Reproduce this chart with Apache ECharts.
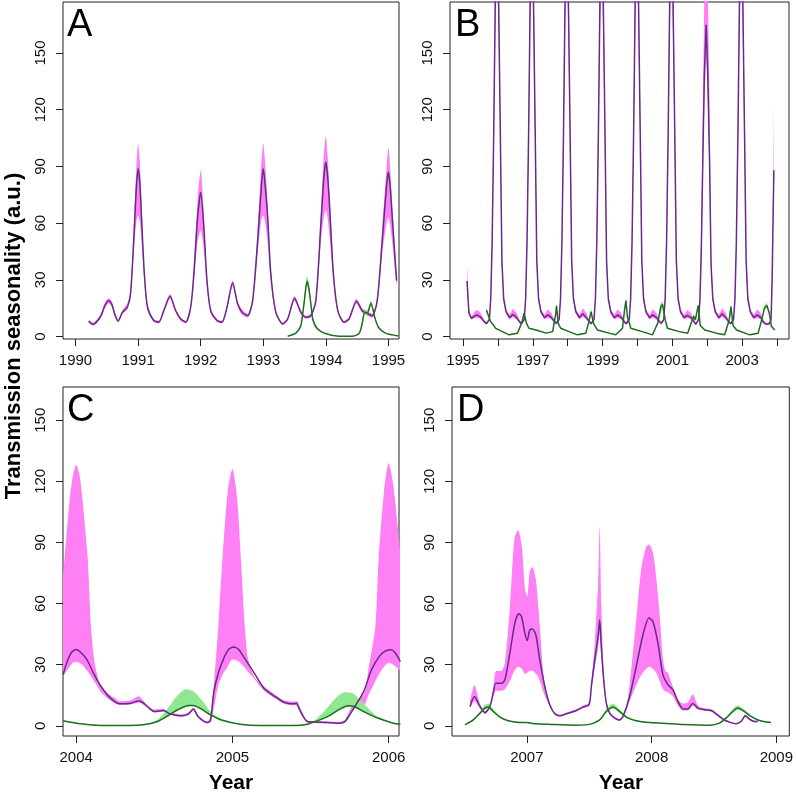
<!DOCTYPE html>
<html><head><meta charset="utf-8">
<script src="https://cdn.jsdelivr.net/npm/echarts@6/dist/echarts.min.js"></script>
<style>html,body{margin:0;padding:0;background:#fff}#c{width:796px;height:799px}</style>
</head><body><div id="c"></div>
<script>
// ---------------- Panel A (1990-1995) ----------------
const aPurpleX = [1990.21,1990.28,1990.40,1990.47,1990.53,1990.58,1990.63,1990.68,1990.75,1990.83,
 1990.88,1990.93,1990.97,1991.00,1991.03,1991.06,1991.10,1991.15,1991.25,1991.33,
 1991.41,1991.51,1991.60,1991.68,1991.76,1991.84,1991.89,1991.95,1992.00,1992.05,
 1992.10,1992.16,1992.26,1992.34,1992.42,1992.51,1992.59,1992.66,1992.75,1992.83,
 1992.91,1992.97,1993.00,1993.03,1993.07,1993.12,1993.20,1993.31,1993.39,1993.50,
 1993.60,1993.68,1993.76,1993.84,1993.92,1993.97,1994.00,1994.03,1994.06,1994.12,
 1994.19,1994.29,1994.37,1994.49,1994.58,1994.66,1994.74,1994.82,1994.90,1994.97,
 1995.00,1995.03,1995.06,1995.13];
const aPurpleMid = [8.1,6.5,10.5,16.5,19.0,17.0,11.5,8.2,12.8,15.8,
 23.0,51.0,78.0,88.8,80.0,59.0,33.0,15.5,8.5,7.6,
 13.7,21.3,13.7,9.3,7.6,15.5,33.0,63.0,76.4,57.7,
 29.5,13.7,8.5,7.6,15.5,28.4,17.3,12.9,11.1,19.0,
 50.8,80.0,88.8,80.0,63.0,33.2,12.9,6.7,9.3,20.2,
 12.9,10.2,11.1,19.0,59.7,85.0,92.3,84.0,68.3,33.2,
 13.7,7.6,9.3,18.7,13.7,12.3,11.0,19.0,50.8,80.0,
 87.0,78.0,63.0,29.5];
const aPinkLo = [7.3,5.8,9.6,15.0,17.5,15.8,10.5,7.5,12.0,14.5,
 21.0,44.0,60.0,64.0,60.0,48.0,29.0,14.0,7.8,7.0,
 12.8,20.0,12.8,8.5,7.0,14.5,28.0,50.0,56.0,46.0,
 26.0,12.5,7.8,7.0,14.5,26.5,16.0,11.5,10.0,17.5,
 44.0,62.0,64.0,60.0,50.0,29.0,12.0,6.1,8.5,18.8,
 11.8,9.5,10.3,17.5,50.0,64.0,67.0,62.0,52.0,29.0,
 12.8,7.0,8.6,17.5,12.5,11.0,10.0,17.5,44.0,60.0,
 63.0,58.0,50.0,26.0];
const aPinkHi = [9.0,7.3,11.8,18.0,20.2,18.5,12.5,9.0,14.0,17.5,
 25.0,57.0,88.0,102.0,92.0,66.0,36.0,17.0,9.3,8.4,
 14.8,22.5,14.6,10.0,8.3,16.8,36.0,72.0,88.0,65.0,
 32.0,15.0,9.3,8.3,16.8,29.5,18.3,14.5,12.0,20.5,
 57.0,92.0,102.0,92.0,70.0,36.0,14.0,7.4,10.2,21.5,
 13.8,11.0,12.0,20.5,66.0,98.0,106.0,95.0,75.0,36.0,
 14.8,8.3,10.2,20.0,14.8,13.5,12.0,20.5,57.0,90.0,
 100.0,88.0,70.0,33.0];
const aGreenX = [1993.39,1993.52,1993.60,1993.65,1993.70,1993.73,1993.76,1993.79,1993.86,1993.99,
 1994.21,1994.42,1994.53,1994.58,1994.62,1994.66,1994.72,1994.78,1994.84,1994.95,1995.16];
const aGreenMid = [0.2,1.8,5.8,17.3,29.3,25.0,17.3,9.3,4.2,1.6,
 0.2,0.2,1.6,6.9,12.9,12.3,17.6,10.2,4.9,1.8,0.3];
const aGreenLo = [0.1,1.5,5.0,15.5,27.0,23.0,16.0,8.5,3.8,1.4,
 0.1,0.1,1.3,6.0,11.5,11.5,16.5,9.5,4.5,1.6,0.2];
const aGreenHi = [0.3,2.2,6.8,19.5,32.0,28.0,19.0,10.2,4.7,1.8,
 0.3,0.3,1.9,8.0,14.5,14.0,19.0,11.0,5.4,2.0,0.4];

// ---------------- Panel B (1995-2004) ----------------
const bPurpleX = [1995.115,1995.17,1995.24,1995.31,1995.38,1995.45,1995.52,1995.60,1995.675,
 1995.755,1995.795,1995.835,1995.88,1995.925,1995.975,1996.02,1996.07,1996.115,1996.165,1996.235,1996.335,1996.435,1996.535,1996.615,1996.675,
 1996.755,1996.795,1996.835,1996.88,1996.925,1996.975,1997.02,1997.07,1997.115,1997.165,1997.235,1997.335,1997.435,1997.535,1997.615,1997.675,
 1997.755,1997.795,1997.835,1997.88,1997.925,1997.975,1998.02,1998.07,1998.115,1998.165,1998.235,1998.335,1998.435,1998.535,1998.615,1998.675,
 1998.755,1998.795,1998.835,1998.88,1998.925,1998.975,1999.02,1999.07,1999.115,1999.165,1999.235,1999.335,1999.435,1999.535,1999.615,1999.675,
 1999.765,1999.805,1999.845,1999.89,1999.935,1999.985,2000.03,2000.08,2000.125,2000.175,2000.245,2000.345,2000.445,2000.545,2000.625,2000.685,
 2000.755,2000.795,2000.835,2000.88,2000.925,2000.975,2001.02,2001.07,2001.115,2001.165,2001.235,2001.335,2001.435,2001.535,2001.615,2001.675,
 2001.75,2001.79,2001.83,2001.875,2001.92,2001.97,2002.015,2002.065,2002.11,2002.16,2002.23,2002.33,2002.43,2002.53,2002.61,2002.675,
 2002.755,2002.795,2002.835,2002.88,2002.925,2002.975,2003.02,2003.07,2003.115,2003.165,2003.235,2003.335,2003.435,2003.535,2003.615,2003.70,
 2003.78,2003.83,2003.86,2003.89,2003.91];
const bPurpleMid = [29.4,12.3,9.6,10.5,11.4,11.0,10.0,8.0,6.8,
 9,20,50,107,178,215,178,107,40,20,13,10,11.8,10,8,6.8,
 9,20,50,107,178,220,178,107,40,20,13,10,11.5,10,8,7,
 9,20,50,107,178,225,178,107,40,20,13,10,12,10,8,6.8,
 9,20,50,107,178,215,178,107,40,20,13,10,11.5,10,8,6.8,
 9,20,50,107,178,230,178,107,40,20,13,10,11.5,10,8,7,
 9,20,50,107,178,220,178,107,40,20,13,10,11.2,10,8,6.5,
 9,19,45,95,140,165,140,95,38,20,13,10,12,10,8,6.8,
 9,20,50,107,178,225,178,107,40,20,13,10,11.5,10,7.5,6.5,
 6.8,9,30,65,88];
const bPinkLo = [27,11.5,9.0,9.5,10.0,9.8,9.0,7.3,6.2,
 8.3,18,45,96,160,194,160,96,36,18.5,12,9,10.3,9,7.3,6.2,
 8.3,18,45,96,160,198,160,96,36,18.5,12,9,10,9,7.3,6.3,
 8.3,18,45,96,160,202,160,96,36,18.5,12,9,10.5,9,7.3,6.2,
 8.3,18,45,96,160,194,160,96,36,18.5,12,9,10,9,7.3,6.2,
 8.3,18,45,96,160,207,160,96,36,18.5,12,9,10,9,7.3,6.3,
 8.3,18,45,96,160,198,160,96,36,18.5,12,9,9.8,9,7.3,5.9,
 8.3,17,40,85,126,148,126,85,34,18.5,12,9,10.5,9,7.3,6.2,
 8.3,18,45,96,160,202,160,96,36,18.5,12,9,10,9,6.8,5.9,
 6.2,8.3,27,60,80];
const bPinkHi = [38,14,10.8,12.5,14.0,13.5,12.0,9.0,7.5,
 9.8,22,55,118,196,240,196,118,44,21.5,14.5,11.5,14.8,12.5,9,7.5,
 9.8,22,55,118,196,246,196,118,44,21.5,14.5,11.5,14.5,12.5,9,7.7,
 9.8,22,55,118,196,252,196,118,44,21.5,14.5,11.5,15,12.5,9,7.5,
 9.8,22,55,118,196,240,196,118,44,21.5,14.5,11.5,14.5,12.5,9,7.5,
 9.8,22,55,118,196,258,196,118,44,21.5,14.5,11.5,14.5,12.5,9,7.7,
 9.8,22,55,118,196,246,196,118,44,21.5,14.5,11.5,14,12.5,9,7.2,
 9.8,24,60,125,185,210,185,125,44,21.5,14.5,11.5,15,12.5,9,7.5,
 9.8,22,55,118,196,252,196,118,44,21.5,14.5,11.5,14.5,12.5,8.5,7.2,
 7.5,9.8,36,80,124];
const bGreenX = [1995.67,1995.79,1995.94,1996.32,1996.56,1996.68,1996.75,1996.82,1996.89,1997.09,
 1997.38,1997.57,1997.66,1997.68,1997.73,1997.80,1998.04,1998.28,1998.52,1998.61,
 1998.67,1998.74,1998.85,1999.19,1999.38,1999.57,1999.63,1999.67,1999.71,1999.81,
 2000.14,2000.43,2000.58,2000.67,2000.72,2000.80,2000.86,2001.20,2001.44,2001.57,
 2001.61,2001.66,2001.74,2001.80,2001.93,2002.26,2002.50,2002.63,2002.68,2002.74,
 2002.84,2003.22,2003.46,2003.56,2003.64,2003.71,2003.78,2003.84,2003.94];
const bGreenMid = [14,8,4.3,0.9,1.8,7,12.3,7,4.4,3.5,
 1.8,2.6,12.3,16.2,7,4.4,2.6,0.9,1.8,8,
 13.2,7,3.5,1.8,0.9,4.4,14,19,10.6,4.4,
 2.6,0.9,7,15.9,17,8.5,4.4,2.6,1.8,8.8,
 10.8,8.8,16.4,5.8,3.5,1.8,0.9,8.8,15.9,5.8,
 3.5,0.9,1.8,8.8,15,16.4,12.3,5.3,3.5];
const bGreenLo = [13,7.5,4.0,0.8,1.6,6.5,11.5,6.5,4.1,3.3,
 1.6,2.4,11.5,15,6.5,4.1,2.4,0.8,1.6,7.4,
 12.3,6.5,3.3,1.6,0.8,4.1,13,17.5,10,4.1,
 2.4,0.8,6.5,14.5,15.5,8,4.1,2.4,1.6,8.2,
 10,8.2,15,5.4,3.3,1.6,0.8,8.2,14.8,5.4,
 3.3,0.8,1.6,8.2,14,15.2,11.5,5.0,3.3];
const bGreenHi = [15,8.5,4.6,1.0,2.0,7.6,13.5,7.6,4.7,3.7,
 2.0,2.8,13.5,17.5,7.6,4.7,2.8,1.0,2.0,8.8,
 14.5,7.6,3.7,2.0,1.0,4.8,15.5,20.5,11.5,4.7,
 2.8,1.0,7.8,17.5,19,9.2,4.7,2.8,2.0,9.5,
 11.8,9.6,17.5,6.2,3.7,2.0,1.0,9.6,17,6.2,
 3.7,1.0,2.0,9.6,16.5,18,13.2,5.7,3.7];

// ---------------- Panel C (2004-2006) ----------------
const cPurpleX = [2003.916,2003.94,2003.97,2004.00,2004.03,2004.07,2004.11,2004.16,2004.22,2004.28,
 2004.35,2004.40,2004.43,2004.47,2004.50,2004.56,2004.60,2004.67,2004.72,2004.75,
 2004.78,2004.84,2004.86,2004.88,2004.91,2004.95,2004.98,2005.01,2005.04,2005.07,
 2005.14,2005.20,2005.27,2005.33,2005.39,2005.41,2005.42,2005.45,2005.48,2005.54,
 2005.61,2005.67,2005.72,2005.75,2005.79,2005.84,2005.89,2005.94,2005.975,2006.01,
 2006.04,2006.075];
const cPurpleMid = [25,31,36,37.5,36,32.4,26,19.3,13.6,10.8,
 11.1,12.2,11.3,8.5,7.0,7.5,5.9,4.9,5.9,8.3,
 4.6,1.6,2.6,16.1,25.9,34.1,37.8,38.7,37.5,34.1,
 25.9,18.6,14.5,11.6,10.8,11.1,9.5,5,2.1,1.8,
 1.6,1.3,2.1,5.4,10.3,16.8,27.5,34.1,36.5,37.3,
 36,31.5];
const cPinkX = [2003.916,2003.94,2003.96,2003.98,2004.00,2004.02,2004.04,2004.06,2004.075,2004.095,
 2004.115,2004.135,2004.155,2004.20,2004.24,2004.28,2004.35,2004.40,2004.45,2004.50,
 2004.56,2004.60,2004.67,2004.72,2004.75,2004.78,2004.84,2004.86,2004.885,2004.91,
 2004.936,2004.97,2005.00,2005.03,2005.055,2005.08,2005.10,2005.14,2005.20,2005.27,
 2005.33,2005.39,2005.415,2005.425,2005.48,2005.54,2005.61,2005.67,2005.72,2005.76,
 2005.80,2005.845,2005.87,2005.915,2005.935,2005.97,2006.00,2006.03,2006.075];
const cPinkLo = [24,27,29,31,31.5,31,30,28,26.5,24.5,
 22,19.5,17,13.5,11.5,10.2,10.5,11.5,9.2,6.5,
 7,5.5,4.4,5.3,7.6,4.0,1.2,2.0,10,20,
 25,29,32.5,32,30.5,28.5,26.5,23,17.5,13.5,
 10.8,10,10.3,8.5,1.6,1.3,1.1,0.8,1.5,6,
 10,10.5,15,22,25,29,31,30,27];
const cPinkHi = [73,95,112,123,128,124,112,95,81.5,49,
 32.5,25,19.5,16,14,12,12.5,14.5,10.5,8,
 8.2,6.6,5.5,6.5,9,5.2,2.2,5,24,49,
 81.5,115,126,112,81.5,48,33,24,19.5,15.5,
 12.5,11.8,12,10.5,2.6,2.3,2.1,1.8,3,9,
 12.5,16,27.5,49,81.5,115,129,118,85];
const cGreenX = [2003.916,2004.03,2004.16,2004.33,2004.43,2004.52,2004.58,2004.65,2004.72,2004.75,
 2004.80,2004.86,2004.94,2005.05,2005.18,2005.39,2005.48,2005.56,2005.63,2005.69,
 2005.74,2005.78,2005.84,2005.93,2006.03,2006.075];
const cGreenMid = [2.5,1.0,0.2,0.2,0.5,2.1,4.6,7.9,10,10,
 8.3,5.4,2.6,0.8,0.2,0.2,0.8,2.9,5.4,8.3,
 9.8,9.5,7.0,3.8,1.3,0.8];
const cGreenBandX = [2003.916,2004.03,2004.16,2004.33,2004.43,2004.50,2004.55,2004.60,2004.65,2004.70,
 2004.75,2004.80,2004.85,2004.90,2004.95,2005.05,2005.18,2005.39,2005.48,2005.53,
 2005.58,2005.63,2005.68,2005.72,2005.77,2005.82,2005.87,2005.93,2006.03,2006.075];
const cGreenLo = [2.3,0.9,0.1,0.1,0.4,1.5,3.0,5.0,7.6,9.2,
 9.8,8.1,5.5,3.8,2.4,0.7,0.1,0.1,0.7,1.8,
 3.6,5.2,7.5,9.0,9.4,7.6,5.6,3.6,1.2,0.7];
const cGreenHi = [2.7,1.1,0.3,0.3,0.7,2.0,5.0,10.0,15.0,18.0,
 17.0,13.0,8.0,4.6,2.9,0.9,0.3,0.3,1.0,3.0,
 6.5,11.0,15.0,16.5,16.0,12.5,8.5,4.5,1.4,0.9];

// ---------------- Panel D (2006-2009) ----------------
const dPurpleX = [2006.544,2006.58,2006.624,2006.664,2006.704,2006.73,2006.752,2006.797,2006.824,2006.864,
 2006.904,2006.936,2006.957,2006.984,2007.003,2007.024,2007.045,2007.072,2007.104,2007.144,
 2007.184,2007.224,2007.264,2007.317,2007.397,2007.451,2007.499,2007.517,2007.544,2007.571,
 2007.584,2007.597,2007.616,2007.637,2007.664,2007.704,2007.744,2007.771,2007.824,2007.877,
 2007.931,2007.979,2008.011,2008.051,2008.091,2008.131,2008.171,2008.211,2008.251,2008.291,
 2008.331,2008.371,2008.424,2008.477,2008.517,2008.571,2008.624,2008.677,2008.717,2008.752,
 2008.784,2008.824,2008.851];
const dPurpleMid = [9.5,14.4,9.5,6.5,9.5,16,20.9,20.9,22.6,35.7,
 50.4,55,53.7,45.5,41.9,47.1,47.5,44.7,32.4,19.3,
 10.3,5.9,4.9,5.9,7.5,9.2,10.3,19.3,32.4,43.8,
 52,38.9,22.6,11.1,6.2,3.8,2.9,4.6,14.4,29.1,
 44.7,52.9,51.2,40.6,25.1,20.2,17.7,12,8.3,8.3,
 11,8.7,7.9,7.5,5.9,3.3,1.8,1.0,2.1,4.9,
 3.3,2.1,2.1];
const dPinkX = [2006.544,2006.58,2006.624,2006.664,2006.704,2006.73,2006.752,2006.797,2006.824,2006.864,
 2006.90,2006.93,2006.96,2006.985,2007.003,2007.024,2007.045,2007.072,2007.09,2007.11,
 2007.13,2007.157,2007.184,2007.224,2007.264,2007.317,2007.397,2007.451,2007.499,2007.517,
 2007.544,2007.571,2007.584,2007.597,2007.616,2007.637,2007.664,2007.704,2007.744,2007.771,
 2007.80,2007.824,2007.877,2007.917,2007.957,2007.98,2008.011,2008.037,2008.064,2008.091,
 2008.11,2008.131,2008.171,2008.211,2008.251,2008.291,2008.331,2008.371,2008.424,2008.477,
 2008.517,2008.571,2008.624,2008.677,2008.717,2008.752,2008.784,2008.824,2008.851];
const dPinkLo = [8.5,12,8.5,5.8,8.8,14,17.2,17.2,18,22,
 27,29,28,25.5,26,27,27,25.5,24,21,
 17,13,9.5,5.5,4.5,5.5,7.0,8.7,9.8,17,
 28,38,45,34,20,10,5.7,3.4,2.5,4.1,
 8,12,20,25,28,29,28,26,22,18,
 17,16.5,14.5,10,7.5,7.5,10,8,7.4,7,
 5.5,3,1.5,0.8,1.8,4.4,2.9,1.8,1.8];
const dPinkHi = [12,20,11,7.2,10.5,18,26.8,27,31,58,
 92,96,88,67,63.5,76,78,72,60,44,
 27,16,11,6.5,5.4,6.4,8.2,10,11.5,21,
 40,70,98,60,28,12.5,7,4.3,3.4,5.5,
 10,20,52,77,88,89,85,73,55,33,
 27,26,19,13,11,11.5,15.5,10,8.6,8.2,
 6.5,3.8,2.2,1.3,2.5,5.5,3.8,2.5,2.5];
const dGreenX = [2006.504,2006.571,2006.624,2006.664,2006.691,2006.731,2006.784,2006.851,2006.917,2006.997,
 2007.077,2007.184,2007.397,2007.504,2007.584,2007.637,2007.691,2007.744,2007.797,2007.877,
 2007.984,2008.091,2008.251,2008.464,2008.544,2008.597,2008.651,2008.691,2008.744,2008.797,
 2008.864,2008.957];
const dGreenMid = [0.5,2.9,6.2,8.7,9.2,7.0,4.3,2.5,1.8,1.6,
 1.0,0.7,0.3,0.7,2.9,7.0,9.2,7.0,4.3,2.5,
 1.6,1.3,0.7,0.3,1.3,3.8,7.0,8.7,7.0,4.6,
 2.6,1.6];
const dGreenLo = [0.4,2.6,5.7,8.0,8.5,6.5,4.0,2.3,1.6,1.4,
 0.9,0.6,0.2,0.6,2.6,6.4,8.5,6.5,4.0,2.3,
 1.4,1.2,0.6,0.2,1.1,3.4,6.4,8.0,6.5,4.2,
 2.4,1.5];
const dGreenHi = [0.6,3.3,7.0,10.3,11.0,8.2,4.8,2.7,2.0,1.8,
 1.1,0.8,0.4,0.8,3.3,8.2,11.0,8.0,4.8,2.7,
 1.8,1.4,0.8,0.4,1.5,4.4,8.3,10.0,8.0,5.1,
 2.8,1.7];

// ---------------- Axes ----------------
const aTicks = [1990,1991,1992,1993,1994,1995];
const bTicks = [1995,1996,1997,1998,1999,2000,2001,2002,2003,2004];
const bLabels = [1995,1997,1999,2001,2003];
const cTicks = [2004,2005,2006];
const dTicks = [2007,2008,2009];
const yTicks = [0,30,60,90,120,150];
const panelLetters = ['A','B','C','D'];
const yTitle = 'Transmission seasonality (a.u.)';
const xTitle = 'Year';

// ---------------- Build ----------------
const FONT = '"Liberation Sans", Arial, Helvetica, sans-serif';
const PINK = '#ff80f5', PURPLE = '#662a8a', GREEN = '#1f6e1f', LGREEN = '#8fe88f', INK = '#111';

const panels = [
  {grid:{left:63, top:2, width:336, height:337}, xmin:1989.80, xmax:1995.168, ymin:-1.3, ymax:177,
   ticks:aTicks, labels:aTicks, smooth:0.25,
   pX:aPurpleX, pMid:aPurpleMid, bX:aPurpleX, bLo:aPinkLo, bHi:aPinkHi,
   gX:aGreenX, gMid:aGreenMid, gbX:aGreenX, gLo:aGreenLo, gHi:aGreenHi},
  {grid:{left:450, top:2, width:339, height:337}, xmin:1994.627, xmax:2004.344, ymin:-1.3, ymax:177,
   ticks:bTicks, labels:bLabels, smooth:false,
   pX:bPurpleX, pMid:bPurpleMid, bX:bPurpleX, bLo:bPinkLo, bHi:bPinkHi,
   gX:bGreenX, gMid:bGreenMid, gbX:bGreenX, gLo:bGreenLo, gHi:bGreenHi},
  {grid:{left:63, top:387, width:336, height:349}, xmin:2003.916, xmax:2006.066, ymin:-5, ymax:166.3,
   ticks:cTicks, labels:cTicks, smooth:0.25,
   pX:cPurpleX, pMid:cPurpleMid, bX:cPinkX, bLo:cPinkLo, bHi:cPinkHi,
   gX:cGreenX, gMid:cGreenMid, gbX:cGreenBandX, gLo:cGreenLo, gHi:cGreenHi},
  {grid:{left:452, top:387, width:338, height:349}, xmin:2006.4, xmax:2009.104, ymin:-5, ymax:166.3,
   ticks:dTicks, labels:dTicks, smooth:0.25,
   pX:dPurpleX, pMid:dPurpleMid, bX:dPinkX, bLo:dPinkLo, bHi:dPinkHi,
   gX:dGreenX, gMid:dGreenMid, gbX:dGreenX, gLo:dGreenLo, gHi:dGreenHi}
];

const pairs = (x, y) => x.map((v, i) => [v, y[i]]);
// value first, then time: so the stacked dimension is the y (value) one
const yxPairs = (x, y) => x.map((v, i) => [y[i], v]);
const diff = (hi, lo) => hi.map((v, i) => Math.max(0, v - lo[i]));

const grids = [], xAxes = [], yAxes = [], series = [];
panels.forEach((p, i) => {
  grids.push(Object.assign({show:true, borderColor:'#222', borderWidth:1, backgroundColor:'transparent'}, p.grid));
  xAxes.push({gridIndex:i, type:'value', min:p.xmin, max:p.xmax,
    axisLine:{show:false, onZero:false}, splitLine:{show:false},
    axisTick:{show:true, length:7, lineStyle:{color:'#222', width:1}, customValues:p.ticks},
    axisLabel:{customValues:p.labels, fontSize:15, color:INK, fontFamily:FONT, margin:14,
      formatter:v => String(Math.round(v))}});
  yAxes.push({gridIndex:i, type:'value', min:p.ymin, max:p.ymax,
    axisLine:{show:false}, splitLine:{show:false},
    axisTick:{show:true, length:7, lineStyle:{color:'#222', width:1}, customValues:yTicks},
    axisLabel:{customValues:yTicks, rotate:90, fontSize:15, color:INK, fontFamily:FONT, margin:15,
      formatter:v => String(Math.round(v))}});
  const common = {type:'line', xAxisIndex:i, yAxisIndex:i, symbol:'none', silent:true, smooth:p.smooth, clip:true};
  const bandCommon = Object.assign({}, common, {encode:{x:1, y:0}, stackStrategy:'all', lineStyle:{opacity:0}});
  series.push(Object.assign({}, bandCommon, {stack:'pink'+i, data:yxPairs(p.bX, p.bLo), itemStyle:{color:PINK}, z:1}));
  series.push(Object.assign({}, bandCommon, {stack:'pink'+i, data:yxPairs(p.bX, diff(p.bHi, p.bLo)), itemStyle:{color:PINK}, areaStyle:{color:PINK, opacity:1}, z:1}));
  series.push(Object.assign({}, bandCommon, {stack:'green'+i, data:yxPairs(p.gbX, p.gLo), itemStyle:{color:LGREEN}, z:2}));
  series.push(Object.assign({}, bandCommon, {stack:'green'+i, data:yxPairs(p.gbX, diff(p.gHi, p.gLo)), itemStyle:{color:LGREEN}, areaStyle:{color:LGREEN, opacity:1}, z:2}));
  series.push(Object.assign({}, common, {data:pairs(p.pX, p.pMid), lineStyle:{color:PURPLE, width:1.5}, itemStyle:{color:PURPLE}, z:3}));
  series.push(Object.assign({}, common, {data:pairs(p.gX, p.gMid), lineStyle:{color:GREEN, width:1.5}, itemStyle:{color:GREEN}, z:4}));
});

const letterPos = [[67, 25.5], [455, 25.5], [67, 411], [457, 410.5]];
const graphics = panelLetters.map((t, i) => ({type:'text', x:letterPos[i][0], y:letterPos[i][1], z:10,
  style:{text:t, font:'normal 38px ' + FONT, fill:'#000', align:'left', verticalAlign:'middle', textAlign:'left', textVerticalAlign:'middle'}}));
graphics.push({type:'text', x:14, y:336, rotation:Math.PI/2, z:10,
  style:{text:yTitle, font:'bold 22px ' + FONT, fill:'#000', align:'center', verticalAlign:'middle', textAlign:'center', textVerticalAlign:'middle'}});
graphics.push({type:'text', x:231, y:783, z:10,
  style:{text:xTitle, font:'bold 21px ' + FONT, fill:'#000', align:'center', verticalAlign:'middle', textAlign:'center', textVerticalAlign:'middle'}});
graphics.push({type:'text', x:621, y:783, z:10,
  style:{text:xTitle, font:'bold 21px ' + FONT, fill:'#000', align:'center', verticalAlign:'middle', textAlign:'center', textVerticalAlign:'middle'}});

const chart = echarts.init(document.getElementById('c'), null, {renderer:'canvas'});
chart.setOption({
  animation:false,
  backgroundColor:'#fff',
  textStyle:{fontFamily:FONT},
  grid:grids, xAxis:xAxes, yAxis:yAxes, series:series, graphic:graphics
});
</script></body></html>
